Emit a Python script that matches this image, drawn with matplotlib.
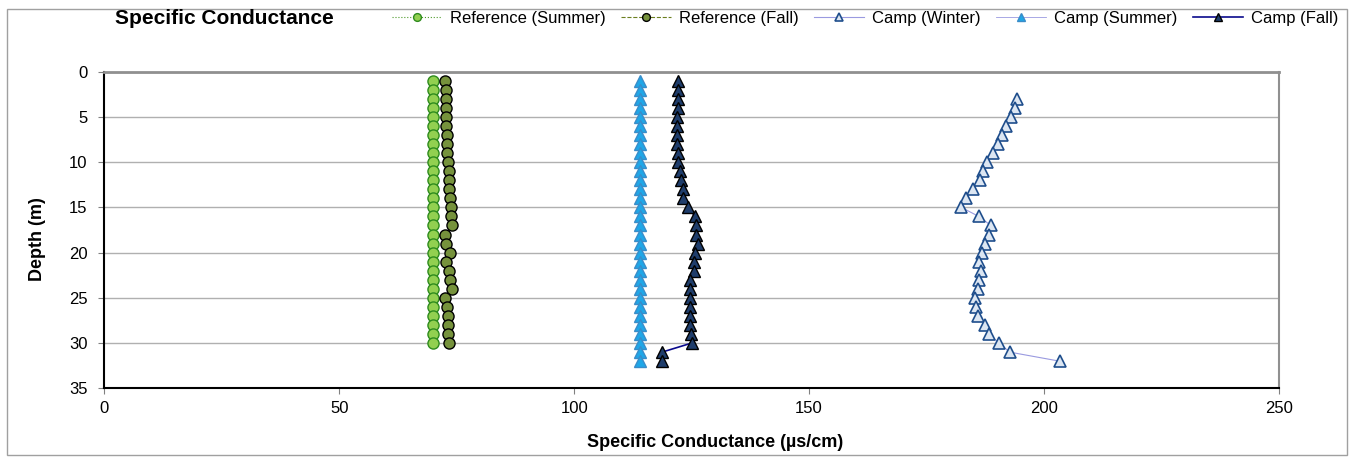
import matplotlib
matplotlib.use("Agg")
import matplotlib.pyplot as plt
from matplotlib.patches import Rectangle

plt.rcParams['font.family'] = ['Liberation Sans', 'DejaVu Sans']

# ---- data ----
ref_summer_depth = list(range(1, 31))
ref_summer_sc = [70.0] * 30

ref_fall_depth = list(range(1, 31))
ref_fall_sc = [72.6, 72.8, 72.8, 72.8, 72.8, 72.8, 72.9, 72.9, 73.0, 73.2,
               73.3, 73.3, 73.4, 73.5, 73.7, 73.8, 73.9, 72.6, 72.7, 73.5,
               72.8, 73.3, 73.5, 73.9, 72.6, 72.9, 73.2, 73.2, 73.2, 73.3]

camp_winter_depth = list(range(3, 33))
camp_winter_sc = [194.3, 193.9, 192.9, 191.9, 191.1, 190.2, 189.2, 187.9, 187.0, 186.4,
                  184.8, 183.3, 182.4, 186.1, 188.7, 188.2, 187.5, 186.8, 186.2, 186.5,
                  186.2, 186.0, 185.4, 185.5, 186.0, 187.5, 188.2, 190.4, 192.7, 203.3]

camp_summer_depth = list(range(1, 33))
camp_summer_sc = [114.0] * 32

camp_fall_depth = list(range(1, 33))
camp_fall_sc = [122.1, 122.1, 122.1, 122.0, 121.9, 121.9, 121.9, 121.9, 122.0, 122.1,
                122.5, 122.7, 123.2, 123.2, 124.3, 125.7, 126.0, 126.0, 126.3, 125.7,
                125.6, 125.5, 124.6, 124.6, 124.6, 124.6, 124.6, 124.6, 124.8, 125.0,
                118.7, 118.7]

x_ticks = [0, 50, 100, 150, 200, 250]
y_ticks = [0, 5, 10, 15, 20, 25, 30, 35]

# ---- figure ----
W, H = 1356, 459
fig = plt.figure(figsize=(W / 100, H / 100), dpi=100)
ax = fig.add_axes([104.3 / W, 1 - 388.3 / H, (1279 - 104.3) / W, (388.3 - 71.7) / H])

ax.plot(ref_summer_sc, ref_summer_depth, linestyle=':', color='#4E9A2A', linewidth=0.8,
        marker='o', markersize=8, markerfacecolor='#92D050', markeredgecolor='#2E8B1E',
        markeredgewidth=1.0, label='Reference (Summer)', zorder=3)
ax.plot(ref_fall_sc, ref_fall_depth, linestyle='--', color='#6B7F1F', linewidth=0.8,
        marker='o', markersize=8, markerfacecolor='#76923C', markeredgecolor='#000000',
        markeredgewidth=1.0, label='Reference (Fall)', zorder=3)
ax.plot(camp_winter_sc, camp_winter_depth, linestyle='-', color='#9A9AE0', linewidth=0.8,
        marker='^', markersize=9, markerfacecolor='#DCE6F2', markeredgecolor='#1F4E8C',
        markeredgewidth=1.2, label='Camp (Winter)', zorder=3)
ax.plot(camp_summer_sc, camp_summer_depth, linestyle='-', color='#9A9AE0', linewidth=0.6,
        marker='^', markersize=9, markerfacecolor='#1EA7E8', markeredgecolor='#3A8CC8',
        markeredgewidth=1.0, label='Camp (Summer)', zorder=3)
ax.plot(camp_fall_sc, camp_fall_depth, linestyle='-', color='#0A0A8C', linewidth=1.2,
        marker='^', markersize=9, markerfacecolor='#1F3D6B', markeredgecolor='#000000',
        markeredgewidth=1.0, label='Camp (Fall)', zorder=3)

ax.set_xlim(0, 250)
ax.set_ylim(35, 0)
ax.set_xticks(x_ticks)
ax.set_yticks(y_ticks)
ax.yaxis.grid(True, color='#B0B0B0', linewidth=1.0)
ax.set_axisbelow(True)
ax.tick_params(axis='both', labelsize=12, direction='out', length=4, color='#808080')
ax.tick_params(axis='x', pad=5)
ax.tick_params(axis='y', pad=8)
for s in ['left', 'bottom']:
    ax.spines[s].set_color('black')
    ax.spines[s].set_linewidth(1.5)
ax.spines['top'].set_color('#909090')
ax.spines['top'].set_linewidth(2.0)
ax.spines['right'].set_color('#909090')
ax.spines['right'].set_linewidth(1.5)

ax.set_xlabel('Specific Conductance (µs/cm)', fontsize=13, fontweight='bold')
ax.xaxis.set_label_coords(0.52, -0.145)
ax.set_ylabel('Depth (m)', fontsize=13, fontweight='bold')
ax.yaxis.set_label_coords(-0.05, 0.47)

fig.text(115 / W, 1 - 19 / H, 'Specific Conductance', fontsize=15, fontweight='bold',
         ha='left', va='center')

fig.legend(loc='center right', bbox_to_anchor=(1345 / W, 1 - 18 / H), ncol=5,
           frameon=False, fontsize=12, handlelength=3.0, columnspacing=0.9,
           handletextpad=0.5, markerscale=0.7, borderaxespad=0)

fig.patches.append(Rectangle((7 / W, 1 - 455 / H), (1347 - 7) / W, (455 - 9) / H,
                             transform=fig.transFigure, fill=False,
                             edgecolor='#A0A0A0', linewidth=1.0))

fig.savefig('out.png', dpi=100)
